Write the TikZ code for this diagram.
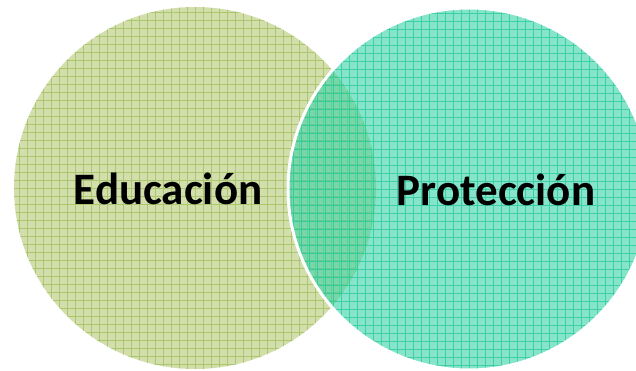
\documentclass[tikz,border=0pt]{standalone}
\usepackage{fontspec}
\setmainfont{Carlito}
\usepackage{tikz}
\usepackage{xcolor}

\definecolor{olivefill}{RGB}{210,222,172}
\definecolor{oliveline}{RGB}{172,198,110}
\definecolor{tealfill}{RGB}{60,212,170}
\definecolor{tealline}{RGB}{30,200,150}

\begin{document}
\begin{tikzpicture}[x=1pt, y=-1pt, every node/.style={inner sep=0pt},
    setcircle/.style={circle, minimum size=362pt},
    setlabel/.style={font=\fontsize{45}{50}\selectfont\bfseries, text=black}]
            \useasboundingbox (0,0) rectangle (636,371);

            \node (E) [setcircle, fill=olivefill,
                path picture={\draw[oliveline, line width=0.7pt] (path picture bounding box.south west) grid[step=8pt] (path picture bounding box.north east);}]
                at (195,188) {};
            \node (P) [setcircle, fill=tealfill, fill opacity=0.62, draw=white, line width=3pt,
                path picture={\draw[tealline, line width=0.7pt, draw opacity=0.7] (path picture bounding box.south west) grid[step=8pt] (path picture bounding box.north east);}]
                at (469,189) {};

            \node (Eedu) [setlabel] at (168,189) {Educación};
            \node (Pprot) [setlabel] at (496,190) {Protección};
        \end{tikzpicture}
\end{document}
